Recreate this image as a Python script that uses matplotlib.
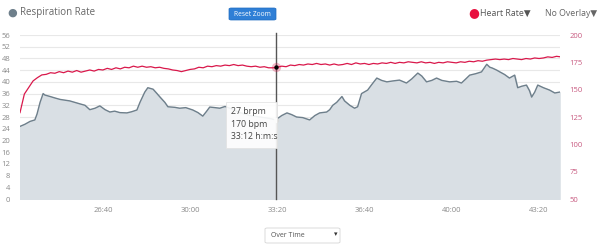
import numpy as np
import matplotlib
matplotlib.use("Agg")
import matplotlib.pyplot as plt
from matplotlib.patches import Rectangle, FancyBboxPatch

plt.rcParams['font.family'] = ['Open Sans', 'DejaVu Sans']

# Respiration rate (time in seconds, breaths per minute)
resp_t = [1410, 1421, 1433, 1444, 1449, 1456, 1463, 1467, 1479, 1490,
          1502, 1524, 1547, 1559, 1570, 1582, 1593, 1605, 1616, 1627,
          1639, 1655, 1666, 1678, 1685, 1696, 1703, 1715, 1724, 1731,
          1742, 1749, 1765, 1776, 1790, 1806, 1818, 1829, 1838, 1845,
          1857, 1868, 1880, 1891, 1914, 1937, 1960, 1983, 1996, 2010,
          2022, 2033, 2044, 2058, 2074, 2086, 2097, 2113, 2120, 2127,
          2136, 2148, 2154, 2166, 2177, 2184, 2193, 2207, 2216, 2228,
          2239, 2251, 2264, 2280, 2296, 2308, 2322, 2331, 2342, 2354,
          2365, 2377, 2395, 2411, 2422, 2432, 2441, 2455, 2468, 2480,
          2487, 2493, 2503, 2510, 2521, 2532, 2544, 2551, 2560, 2571,
          2578, 2583, 2590, 2597, 2610, 2624, 2636, 2647]
resp = [24.8, 25.5, 26.5, 27.0, 29.0, 33.0, 36.0, 35.5, 35.0, 34.5,
        34.0, 33.5, 32.5, 32.0, 30.5, 31.0, 31.8, 30.5, 29.7, 30.0,
        29.5, 29.4, 29.8, 30.4, 33.0, 36.5, 38.0, 37.5, 36.0, 34.8,
        33.0, 31.5, 31.3, 31.0, 31.2, 30.4, 29.5, 28.3, 30.0, 31.4,
        31.2, 31.0, 31.6, 31.0, 29.5, 28.5, 28.0, 27.5, 27.0, 28.5,
        29.4, 28.8, 28.0, 27.8, 27.0, 28.5, 29.4, 29.7, 30.5, 32.0,
        33.0, 35.0, 33.5, 32.0, 31.0, 31.5, 36.0, 37.2, 39.0, 41.3,
        40.5, 40.0, 40.3, 40.6, 39.6, 41.0, 43.0, 42.0, 40.0, 40.5,
        41.3, 40.5, 40.0, 40.2, 39.6, 41.0, 42.3, 42.8, 43.4, 46.0,
        45.0, 44.7, 44.0, 43.4, 42.5, 41.3, 42.3, 38.0, 38.5, 38.9,
        37.0, 34.8, 36.5, 38.9, 38.0, 37.2, 36.2, 36.5]

# Heart rate, one sample every 10 s starting at 23:30
hr_start = 1410
hr_step = 10
hr = [129, 146, 152, 158, 161, 163.5, 164, 165.5, 165, 166.5,
      165.5, 167, 166, 167.5, 166, 167, 168, 167, 168.5, 168,
      169.5, 168.5, 170, 169, 170.5, 170, 171.5, 170.5, 171.5, 170.5,
      171, 170, 170.5, 169.5, 169, 168, 167.5, 166.5, 167.5, 168.5,
      169, 170.5, 170, 171.5, 171, 172, 171.5, 172.5, 172, 173,
      172, 172.5, 171.5, 171, 171.5, 170.5, 171, 170, 170, 170.5,
      171.5, 171, 172.5, 172, 173, 172.5, 173.5, 173, 174, 173,
      173.5, 172.5, 173.5, 172.5, 173, 174, 173, 174.5, 173.5, 174,
      173, 174, 173.5, 174.5, 174, 175, 174, 175, 174.5, 175.5,
      175, 174.5, 175.5, 174.5, 175, 174, 175, 174.5, 175.5, 175,
      174.5, 175.5, 175, 176, 175.5, 176.5, 176, 177, 177.5, 178,
      177.5, 178, 177.5, 178.5, 178, 177.5, 178.5, 178, 179, 178.5,
      179, 180, 179.5, 180.5, 180]
hr_t = hr_start + hr_step * np.arange(len(hr))

x_ticks = [1600, 1800, 2000, 2200, 2400, 2600]
x_labels = ['26:40', '30:00', '33:20', '36:40', '40:00', '43:20']

# hovered point
cross_t = 1996
tip_resp = 27
tip_hr = 170.5
tip_lines = ['27 brpm', '170 bpm', '33:12 h:m:s']

resp_line = '#6e7f8b'
resp_fill = '#d9dfe4'
hr_color = '#d9184b'
tick_gray = '#8a8a8a'
right_tick = '#c85a80'

fig = plt.figure(figsize=(6.02, 2.45), dpi=100)
ax = fig.add_axes([20 / 602, 46 / 245, 540 / 602, 164 / 245])
ax2 = ax.twinx()

ax.set_xlim(1410, 2648)
ax.set_ylim(0, 56)
ax2.set_ylim(50, 200)

ax.set_yticks(np.arange(0, 57, 4))
ax2.set_yticks(np.arange(50, 201, 25))
ax.set_xticks(x_ticks)
ax.set_xticklabels(x_labels)

ax.grid(axis='y', color='#e8e8e8', linewidth=0.8)
ax.set_axisbelow(True)
for a in (ax, ax2):
    for s in a.spines.values():
        s.set_visible(False)
ax.tick_params(axis='y', length=0, labelsize=5.5, labelcolor=tick_gray, pad=7)
ax.tick_params(axis='x', length=0, labelsize=5.5, labelcolor=tick_gray, pad=6)
ax2.tick_params(axis='y', length=0, labelsize=5.5, labelcolor=right_tick, pad=7)

ax.fill_between(resp_t, resp, 0, color=resp_fill, zorder=1)
ax.plot(resp_t, resp, color=resp_line, linewidth=1.0, zorder=2)
ax2.plot(hr_t, hr, color=hr_color, linewidth=0.9, zorder=2)

# crosshair and markers
ax.axvline(cross_t, ymin=0, ymax=1.01, color='#555555', linewidth=1.0,
           zorder=3, clip_on=False)
ax2.scatter([cross_t], [tip_hr], s=45, color=hr_color, alpha=0.3, zorder=4,
            linewidths=0)
ax2.scatter([cross_t], [tip_hr], s=10, color='black', zorder=5, linewidths=0)
ax.scatter([cross_t], [tip_resp], s=14, color='#d8d8d8', zorder=5, linewidths=0)

# tooltip
ax.add_patch(Rectangle((1882, 17.5), 118, 15.5, facecolor='white', alpha=0.9,
                       edgecolor='#e2e2e2', linewidth=0.6, zorder=6))
for i, s in enumerate(tip_lines):
    ax.text(1893, 30.0 - i * 4.4, s, fontsize=6.3, color='#444444',
            va='center', ha='left', zorder=7)

# header
fig.text(12 / 602, 1 - 13 / 245, '\u25CF', color=resp_line, fontsize=8,
         va='center', ha='center')
fig.text(20 / 602, 1 - 13 / 245, 'Respiration Rate', color='#666666',
         fontsize=7, va='center', ha='left')
fig.patches.append(FancyBboxPatch((229 / 602, 1 - 20 / 245), 47 / 602, 12 / 245,
                                  boxstyle='round,pad=0,rounding_size=0.004',
                                  transform=fig.transFigure, facecolor='#2f7fd6',
                                  edgecolor='#1f6cc0', linewidth=0.5))
fig.text(252.5 / 602, 1 - 14 / 245, 'Reset Zoom', color='white', fontsize=4.8,
         va='center', ha='center')
fig.text(474 / 602, 1 - 13 / 245, '\u25CF', color='#e8103f', fontsize=9,
         va='center', ha='center')
fig.text(480 / 602, 1 - 13 / 245, 'Heart Rate\u25BC', color='#555555',
         fontsize=6.3, va='center', ha='left')
fig.text(545 / 602, 1 - 13 / 245, 'No Overlay\u25BC', color='#666666',
         fontsize=6.3, va='center', ha='left')

# bottom dropdown
fig.patches.append(FancyBboxPatch((265 / 602, 1 - 243 / 245), 75 / 602, 15 / 245,
                                  boxstyle='round,pad=0,rounding_size=0.004',
                                  transform=fig.transFigure, facecolor='white',
                                  edgecolor='#d5d5d5', linewidth=0.6))
fig.text(271 / 602, 1 - 235.5 / 245, 'Over Time', color='#555555', fontsize=5,
         va='center', ha='left')
fig.text(336 / 602, 1 - 235 / 245, '\u25BE', color='#333333', fontsize=5,
         va='center', ha='center')

fig.savefig('out.png', dpi=100)
